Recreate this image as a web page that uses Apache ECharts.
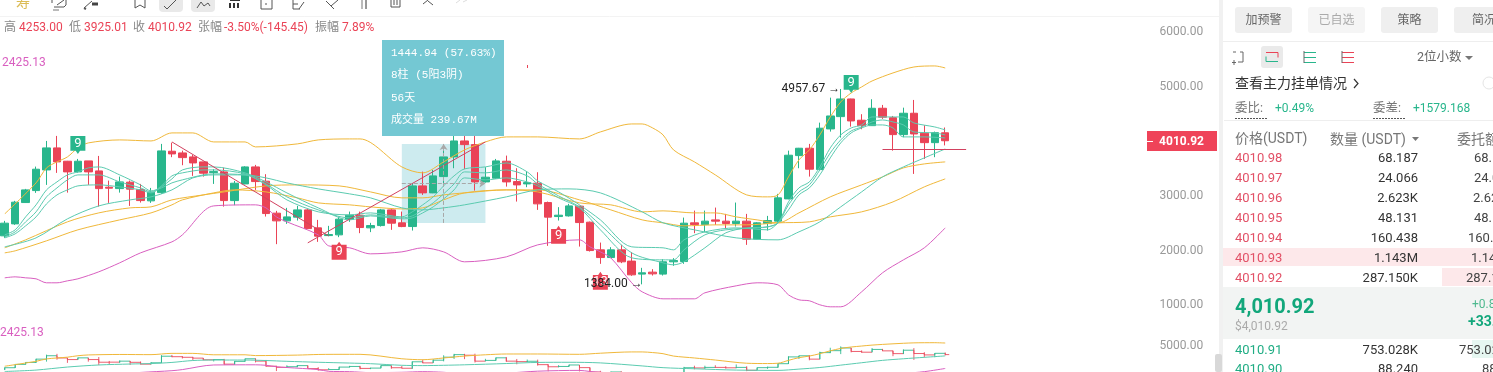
<!DOCTYPE html>
<html><head><meta charset="utf-8">
<style>html,body{margin:0;padding:0;background:#fff;overflow:hidden}#c{width:1493px;height:372px}</style>
<script src="https://cdn.jsdelivr.net/npm/echarts@6/dist/echarts.min.js"></script>
</head><body><div id="c"></div>
<script>
const opens=[2271,2490,2880,3099,3477,3880,3636,3441,3642,3459,3161,3135,3253,3117,2911,3062,3819,3788,3715,3624,3428,3441,2916,3221,3532,3271,2686,2545,2613,2746,2417,2276,2289,2576,2649,2417,2459,2746,2509,2441,3185,3057,3355,3715,4007,3940,3258,3326,3636,3264,3221,3234,2880,2624,2636,2814,2521,2015,1874,2015,1809,1571,1607,1571,1796,1801,2509,2477,2563,2540,2496,2540,2210,2496,2540,2947,3739,3874,3483,4227,4452,4775,4386,4287,4605,4433,4123,4514,4148,3976,4156.37];
const closes=[2503,2887,3112,3490,3880,3624,3441,3636,3441,3135,3143,3258,3125,2916,3070,3825,3770,3702,3605,3417,3446,2916,3234,3532,3264,2679,2545,2618,2746,2404,2265,2295,2576,2649,2423,2459,2746,2503,2441,3185,3057,3368,3715,4007,3940,3258,3344,3642,3258,3203,3245,2856,2613,2649,2819,2514,2002,1874,2015,1796,1558,1595,1576,1796,1819,2503,2477,2540,2540,2496,2540,2210,2509,2551,2966,3746,3874,3490,4240,4464,4775,4373,4287,4605,4441,4123,4514,4135,3976,4159,4010.92];
const lows=[2234,2472,2874,3057,3203,3423,3062,3428,3203,2806,2874,3062,2819,2880,2874,3040,3710,3563,3368,3355,3221,2806,2832,3215,3112,2624,2119,2490,2551,2400,2161,2265,2247,2527,2320,2339,2441,2381,2430,2368,3020,3052,3234,3508,3490,3099,3245,3313,3172,2898,3161,2746,2088,2551,2624,2075,1984,1759,1863,1772,1540,1384,1545,1545,1723,1759,2320,2339,2472,2393,2441,2106,2198,2368,2503,2940,3508,3355,3477,4178,4068,4269,4221,4282,4410,3830,4075,3404,3678,3710,3925.01];
const highs=[2545,2911,3130,3538,4007,4099,3642,3678,3642,3733,3282,3355,3282,3221,3148,3953,3976,3830,3752,3624,3490,3519,3276,3545,3569,3399,2728,2783,2819,2764,2563,2454,2624,2715,2715,2509,2764,2759,2715,3234,3446,3477,3934,4099,4099,4117,3527,3678,3739,3508,3446,3435,2898,2796,2856,2819,2532,2148,2064,2106,1973,1686,1662,1845,1863,2605,2733,2733,2788,2673,2880,2673,2521,2636,3039,3830,3880,3953,4342,4799,4957.67,4780,4496,4770,4666,4464,4616,4757,4294,4178,4253];

const upperBand=[[0,2673],[3,3240],[4,3514],[5,3624],[6,3715],[7,3880],[8,3971],[11,4026],[14,4007],[16,4154],[18,4154],[20,3989],[23,3989],[24,3898],[28,3953],[30,4026],[33,4044],[34,4044],[38,3532],[40,3423],[42,3624],[44,3843],[46,3989],[48,4081],[51,4081],[55,4044],[57,4172],[60,4318],[61,4318],[62,4245],[63,4117],[64,3843],[66,3624],[68,3386],[71,3020],[73,2984],[74,3020],[75,3349],[76,3660],[77,3843],[78,4117],[79,4446],[80,4720],[81,4885],[82,4995],[83,5104],[85,5251],[87,5360],[89,5379],[90,5342]];
const lowerBand=[[0,1503],[1,1521],[2,1503],[3,1485],[4,1412],[5,1412],[6,1448],[7,1485],[9,1613],[11,1777],[13,1960],[16,2161],[17,2289],[20,2819],[24,2838],[25,2783],[26,2618],[27,2527],[30,2289],[31,2088],[33,2052],[35,1942],[38,1978],[40,2052],[42,1978],[44,1796],[48,1887],[51,2106],[55,2198],[56,2070],[57,1978],[58,1869],[60,1412],[61,1247],[63,1119],[66,1119],[67,1229],[70,1357],[72,1412],[74,1375],[75,1192],[76,1101],[77,1083],[78,1010],[79,973],[80,973],[82,1247],[84,1595],[86,1832],[88,2052],[90,2417]];
const yellowA=[[0,2052],[2,2198],[6,2527],[9,2691],[12,2783],[14,2801],[16,2929],[19,3020],[21,3075],[25,3185],[28,3203],[32,3185],[35,3075],[38,2966],[40,2966],[42,3020],[44,3057],[48,3112],[51,3112],[55,2929],[58,2746],[61,2563],[63,2509],[65,2454],[68,2472],[71,2472],[74,2509],[77,2527],[79,2618],[82,2710],[85,2892],[88,3167],[90,3313]];
const yellowB=[[0,1960],[1,1997],[4,2180],[7,2381],[11,2563],[14,2691],[16,2838],[17,2929],[20,3057],[22,3112],[25,3075],[28,2966],[30,2874],[33,2838],[35,2801],[38,2764],[40,2783],[42,2929],[44,3057],[48,3112],[51,3075],[55,2874],[58,2838],[61,2710],[63,2728],[66,2691],[68,2691],[70,2618],[72,2563],[74,2509],[76,2691],[79,2984],[82,3203],[84,3349],[86,3514],[88,3587],[90,3624]];
const tealSlow=[[0,2070],[3,2234],[6,2582],[9,2819],[12,2929],[14,2984],[16,3112],[18,3331],[20,3386],[23,3386],[25,3331],[27,3240],[30,3130],[33,3039],[35,2966],[38,2783],[40,2746],[42,2783],[44,2838],[48,2984],[51,3112],[54,3130],[57,3057],[61,2710],[63,2509],[66,2381],[70,2234],[74,2198],[76,2344],[78,2527],[80,2801],[82,3075],[84,3349],[86,3532],[88,3697],[90,3861]];
const tealOne=[[0,2289],[1,2381],[2,2618],[3,2838],[4,3112],[5,3258],[6,3386],[7,3441],[8,3514],[9,3532],[11,3386],[13,3203],[14,3094],[15,3148],[16,3240],[17,3295],[19,3386],[20,3404],[23,3386],[25,3203],[27,2929],[30,2710],[33,2655],[35,2691],[38,2618],[39,2710],[40,2838],[41,2984],[42,3185],[43,3368],[44,3496],[46,3532],[48,3605],[50,3441],[51,3276],[53,3075],[55,2838],[57,2563],[60,2070],[63,2052],[64,2015],[65,2198],[67,2344],[70,2417],[73,2381],[74,2509],[75,2746],[76,3020],[77,3148],[78,3386],[79,3697],[80,3971],[81,4154],[82,4245],[83,4300],[84,4300],[85,4245],[86,4081],[88,4081],[90,4062]];
const tealTwo=[[0,2253],[1,2344],[2,2527],[3,2710],[4,2984],[5,3148],[6,3295],[7,3386],[9,3386],[11,3258],[13,3148],[14,3075],[15,3185],[16,3368],[17,3423],[19,3477],[20,3477],[23,3404],[25,3221],[27,2984],[30,2746],[33,2600],[35,2655],[38,2600],[39,2636],[40,2746],[41,2874],[42,3039],[43,3221],[44,3441],[46,3423],[48,3477],[50,3368],[51,3221],[53,3002],[55,2801],[57,2472],[60,1960],[63,1777],[64,1741],[65,1796],[67,2052],[69,2326],[71,2417],[73,2435],[74,2509],[75,2892],[76,3148],[77,3258],[78,3532],[79,3880],[80,4117],[81,4245],[82,4300],[83,4446],[84,4446],[85,4446],[86,4446],[87,4337],[89,4263],[90,4209]];
const tealThree=[[0,2234],[1,2308],[2,2454],[3,2618],[4,2856],[5,3020],[6,3112],[7,3185],[9,3203],[11,3167],[13,3112],[14,3057],[15,3167],[16,3313],[17,3477],[19,3532],[20,3532],[23,3423],[25,3258],[27,3057],[30,2783],[33,2563],[35,2636],[38,2582],[39,2600],[40,2691],[41,2801],[42,2947],[43,3112],[44,3331],[46,3295],[48,3331],[50,3258],[51,3185],[53,2966],[55,2783],[57,2381],[60,1869],[63,1832],[64,1832],[65,2015],[67,2289],[69,2381],[72,2417],[73,2435],[74,2509],[75,2838],[76,3075],[77,3203],[78,3477],[79,3788],[80,4026],[81,4190],[82,4263],[83,4355],[84,4391],[85,4355],[86,4300],[87,4172],[89,4154],[90,4117]];

const mainTicks=[6000,5000,3000,2000,1000];
const paneTicks=[5000];
const bookPrices=['4010.98','4010.97','4010.96','4010.95','4010.94','4010.93','4010.92'];
const bookQty=['68.187','24.066','2.623K','48.131','160.438','1.143M','287.150K'];
const bidPrices=['4010.91','4010.90'];
const bidQty=['753.028K','88.240'];

const GREEN='#28b68c',RED='#ea4356',TEAL='#5bcbb0',YEL='#f0b83a',MAG='#d95fc0';
const slots=Array.from({length:117},(_,i)=>i);
const candles=opens.map((o,i)=>[o,closes[i],lows[i],highs[i]]);
const paneRows=opens.map((o,i)=>[i,o,closes[i],lows[i],highs[i]]);
const lineS=(name,data,color,ax=0)=>({type:'line',name,data,xAxisIndex:ax,yAxisIndex:ax,showSymbol:false,smooth:0.3,z:3,silent:true,lineStyle:{color,width:1}});
const badge=(coord,name,color,up)=>({coord,name,symbol:up?'path://M0 3H5L7 0L9 3H14V17H0Z':'path://M0 0H14V14H9L7 17L5 14H0Z',symbolSize:[15,18],itemStyle:{color},label:{show:true,formatter:name,color:'#fff',fontSize:13,fontFamily:'Roboto',position:'inside',offset:[0,up?1:-1]}});
const priceTag=(coord,text,dx)=>({coord,symbol:'rect',symbolSize:1,itemStyle:{color:'transparent'},label:{show:true,formatter:text,position:'left',distance:0,offset:[dx,0],color:'#222',fontSize:12,fontFamily:'Roboto'}});
const cStyle={color:GREEN,color0:RED,borderColor:GREEN,borderColor0:RED,borderWidth:1};

// lower pane: close-to-close steps with small wicks
function renderStep(params,api){
  const i=api.value(0),c=api.value(2),o=api.value(1);
  const prev=i>0?closes[i-1]:o;
  const a=api.coord([i,prev]),b=api.coord([i,c]),n=api.coord([i+1,c]),lo=api.coord([i,api.value(3)]),hi=api.coord([i,api.value(4)]);
  const col=c>=o?GREEN:RED;
  const st={stroke:col,lineWidth:1,opacity:0.85};
  const seg=(p,q)=>({type:'line',shape:{x1:p[0],y1:p[1],x2:q[0],y2:q[1]},style:st});
  return {type:'group',children:[seg(a,b),seg(b,i===90?[b[0]+4,b[1]]:n),seg(lo,hi)]};
}

const FONT="Roboto,'Noto Sans CJK SC',sans-serif";
const g=[];
const T=(x,y,text,fill,size=12,align='left',weight='normal',family=FONT)=>g.push({type:'text',z:100,style:{x,y:y+1,text,fill,align,verticalAlign:'middle',font:`${weight} ${size}px ${family}`}});
const R=(x,y,w,h,fill,r=0)=>g.push({type:'rect',z:90,shape:{x,y,width:w,height:h,r},style:{fill}});
const L=(pts,stroke='#555',lw=1,dash)=>g.push({type:'polyline',z:100,shape:{points:pts},style:{stroke,lineWidth:lw,fill:null,lineDash:dash}});

// top toolbar
L([[0,16.5],[1219,16.5]],'#f3f3f3');
T(23,2,'寿','#dcbc55',14,'center');
L([[52,3],[52,0]]);L([[54,7],[64,7],[66,5],[66,0]]);L([[57,5],[64,0]]);L([[53,10],[59,10]],'#777');
L([[84,8],[92,1]]);L([[84,8],[86,9]],'#555',2);L([[92,4],[98,4]],'#444',3);
L([[135,0],[135,8],[140,5],[145,8],[145,0]]);
R(159,-3,24,15,'#e9e9e9',4);R(191,-3,24,15,'#e9e9e9',4);
L([[164,6],[167,9],[176,0]]);L([[197,8],[201,2],[204,6],[208,3],[210,6]]);
L([[230,3],[230,8]],'#333',2);L([[234,3],[234,8]],'#333',2);L([[238,3],[238,8]],'#333',2);L([[230,0],[240,0]],'#333',2);
L([[261,-1],[261,9],[272,9],[272,-1]]);L([[266,3],[266,5]]);
L([[293,0],[293,9],[300,9]]);L([[299,9],[304,2]]);L([[293,4],[298,4]]);
L([[326,1],[331,6],[338,0]]);L([[329,4],[334,9]]);
L([[362,0],[362,9]],'#777');L([[366,0],[366,9]],'#333');
L([[391,-1],[391,7],[400,7],[400,-1]]);L([[394,0],[394,5]]);L([[397,0],[397,5]]);
L([[423,4],[428,0]]);L([[428,1],[433,5]]);L([[456,3],[460,0]],'#ddd');L([[463,2],[467,0]],'#ddd');

// quote line
[[4,'高','#888'],[19,'4253.00',RED],[69,'低','#888'],[84,'3925.01',RED],[133,'收','#888'],[148,'4010.92',RED],[198,'张幅','#888'],[224,'-3.50%(-145.45)',RED],[315,'振幅','#888'],[342,'7.89%',RED]].forEach(a=>T(a[0],27,a[1],a[2]));
T(2,62,'2425.13',MAG);T(0,331.5,'2425.13',MAG);

// measurement tooltip
R(382,40,122,96,'#74c8d3');
['1444.94 (57.63%)','8柱 (5阳3阴)','56天','成交量 239.67M'].forEach((s,i)=>T(391,52+i*22.3,s,'#fff',11,'left','normal',"'Liberation Mono','Noto Sans CJK SC',monospace"));
L([[527.5,65],[527.5,68]],RED);

// price tag
R(1147,131,70,20,'#ef4359');L([[1147,141.5],[1153,141.5]],'#fff');T(1181.5,140.5,'4010.92','#fff',12,'center','bold');

// right panel
R(1219,0,4,372,'#f1f1f1');
R(1215,354,7,18,'#d8d8d8',2);
[[1235,'加预警','#efefef','#666',57],[1308,'已自选','#f5f5f5','#aaa',57],[1381,'策略','#efefef','#666',57],[1454,'简况','#efefef','#666',60]].forEach(b=>{R(b[0],7,b[4],26,b[2],3);T(b[0]+b[4]/2,20,b[1],b[3],12,'center');});
L([[1223,41.5],[1493,41.5]],'#eeeeee');
R(1261,46,22,22,'#eaeaea',3);
L([[1240,52],[1243,52],[1243,62],[1238,62]],'#666');L([[1233,52],[1236,52]],'#666');L([[1234,60],[1234,65]],'#666');L([[1232,62.5],[1236,62.5]],'#666');
L([[1266,52.5],[1278,52.5],[1278,57.5]],RED);L([[1266,56.5],[1266,61.5],[1278,61.5]],GREEN);
[52,57,62].forEach(y=>{L([[1304,y+.5],[1316,y+.5]],GREEN);L([[1342,y+.5],[1354,y+.5]],RED);});
L([[1304,51],[1304,63]],'#666');L([[1342,51],[1342,63]],'#666');
T(1417,57,'2位小数','#666',12.5);
g.push({type:'polygon',z:100,shape:{points:[[1465,56],[1473,56],[1469,60]]},style:{fill:'#777'}});
T(1235,83,'查看主力挂单情况','#333',14);L([[1354,79],[1358,83.5],[1354,88]],'#333',1.2);
g.push({type:'circle',z:100,shape:{cx:1489,cy:83,r:6},style:{fill:'#fff',stroke:'#e5e5e5'}});
T(1235,108,'委比:','#777',12.5);T(1275,108,'+0.49%',GREEN,12);
T(1373,108,'委差:','#777',12.5);T(1413,108,'+1579.168',GREEN,12);
L([[1235,118.5],[1267,118.5]],'#555',1,[2,1]);L([[1373,118.5],[1405,118.5]],'#555',1,[2,1]);
L([[1224,120.5],[1493,120.5]],'#eeeeee');
T(1235,138,'价格(USDT)','#777',14);T(1330,139,'数量 (USDT)','#777',14);
g.push({type:'polygon',z:100,shape:{points:[[1412,137],[1419,137],[1415.5,141]]},style:{fill:'#777'}});
T(1457,139,'委托额','#777',14);
R(1223,248,270,18,'#fde8ea');R(1442,268,51,18,'#fde8ea');
R(1223,287,270,52,'#f2f4f3');R(1472,340,21,18,'#e6f7f1');
const askX=[1474,1474,1473,1474,1468,1471,1466],bidX=[1459,1482];
bookPrices.forEach((p,i)=>{const y=158+i*20;T(1235,y,p,'#e25066',13);T(1418,y,bookQty[i],'#333',13,'right');T(askX[i],y,bookQty[i],'#444',13);});
T(1235,307,'4,010.92','#12a77b',20,'left','bold');T(1235,326,'$4,010.92','#aaa',12);
T(1472,304,'+0.8','#4fb98f',12);T(1468,321,'+33.','#12a77b',14,'left','bold');
bidPrices.forEach((p,i)=>{const y=350+i*19;T(1235,y,p,'#20ad84',13);T(1418,y,bidQty[i],'#333',13,'right');T(bidX[i],y,bidQty[i],'#444',13);});

const axisX=i=>({type:'category',gridIndex:i,data:slots,show:false,boundaryGap:true});
const axisY=(i,ticks)=>({type:'value',gridIndex:i,min:0,max:6000,interval:1000,position:'right',scale:false,splitLine:{show:false},axisLine:{show:false},axisTick:{show:false},
  axisLabel:{inside:true,margin:19,color:'#999',fontSize:12,fontFamily:'Roboto',padding:[4,0,0,0],customValues:ticks,formatter:v=>v.toFixed(2)}});

const chart=echarts.init(document.getElementById('c'),null,{renderer:'canvas'});
chart.setOption({
  animation:false,backgroundColor:'#fff',
  grid:[{left:-0.5,top:32,width:1222.65,height:328,containLabel:false,outerBoundsMode:'none'},{left:-0.5,top:337.3,width:1222.65,height:52.2,containLabel:false,outerBoundsMode:'none'}],
  xAxis:[axisX(0),axisX(1)],yAxis:[axisY(0,mainTicks),axisY(1,paneTicks)],
  graphic:{elements:g},
  series:[
    {type:'candlestick',xAxisIndex:0,yAxisIndex:0,data:candles,barWidth:8,z:2,itemStyle:cStyle,silent:true,
     markPoint:{silent:true,z:6,animation:false,data:[
       badge([7,3934],'9',GREEN,false),badge([32,2000],'9',RED,true),badge([53,2289],'9',RED,true),badge([57,1448],'13',RED,true),badge([81,5050],'9',GREEN,false),
       priceTag([80,4957.67],'4957.67 →',0),priceTag([61,1384],'1384.00 →',1)]}},
    lineS('upper',upperBand,YEL),lineS('lower',lowerBand,MAG),lineS('yellowA',yellowA,YEL),lineS('yellowB',yellowB,YEL),
    lineS('tealSlow',tealSlow,TEAL),lineS('tealOne',tealOne,TEAL),lineS('tealTwo',tealTwo,TEAL),lineS('tealThree',tealThree,TEAL),
    {type:'line',xAxisIndex:0,yAxisIndex:0,data:[],z:5,silent:true,
     markArea:{silent:true,itemStyle:{color:'rgba(116,200,211,0.36)'},data:[[{coord:[38,3952.1]},{coord:[46,2507.2]}]]},
     markLine:{silent:true,animation:false,symbol:'none',label:{show:false},lineStyle:{color:'#d2415f',width:1,type:'solid'},data:[
       [{coord:[16,3989]},{coord:[31,2271]}],
       [{coord:[29,2143]},{coord:[46,3989]}],
       [{coord:[84,3861]},{coord:[92,3861]}],
       [{coord:[42,2507.2],symbol:'none',lineStyle:{color:'#a8a8a8',type:'dashed'}},{coord:[42,3952.1],symbol:'arrow',symbolSize:6}],
       [{coord:[38,3230],symbol:'none',lineStyle:{color:'#a8a8a8',type:'dashed'}},{coord:[46,3230],symbol:'arrow',symbolSize:6}]
     ]}},
    {type:'custom',xAxisIndex:1,yAxisIndex:1,data:paneRows,encode:{x:0,y:[1,2,3,4]},renderItem:renderStep,z:2,silent:true,clip:true},
    lineS('paneUpper',upperBand,YEL,1),lineS('paneSlow',tealSlow,TEAL,1),lineS('paneLower',lowerBand,MAG,1)
  ]
});
</script></body></html>
